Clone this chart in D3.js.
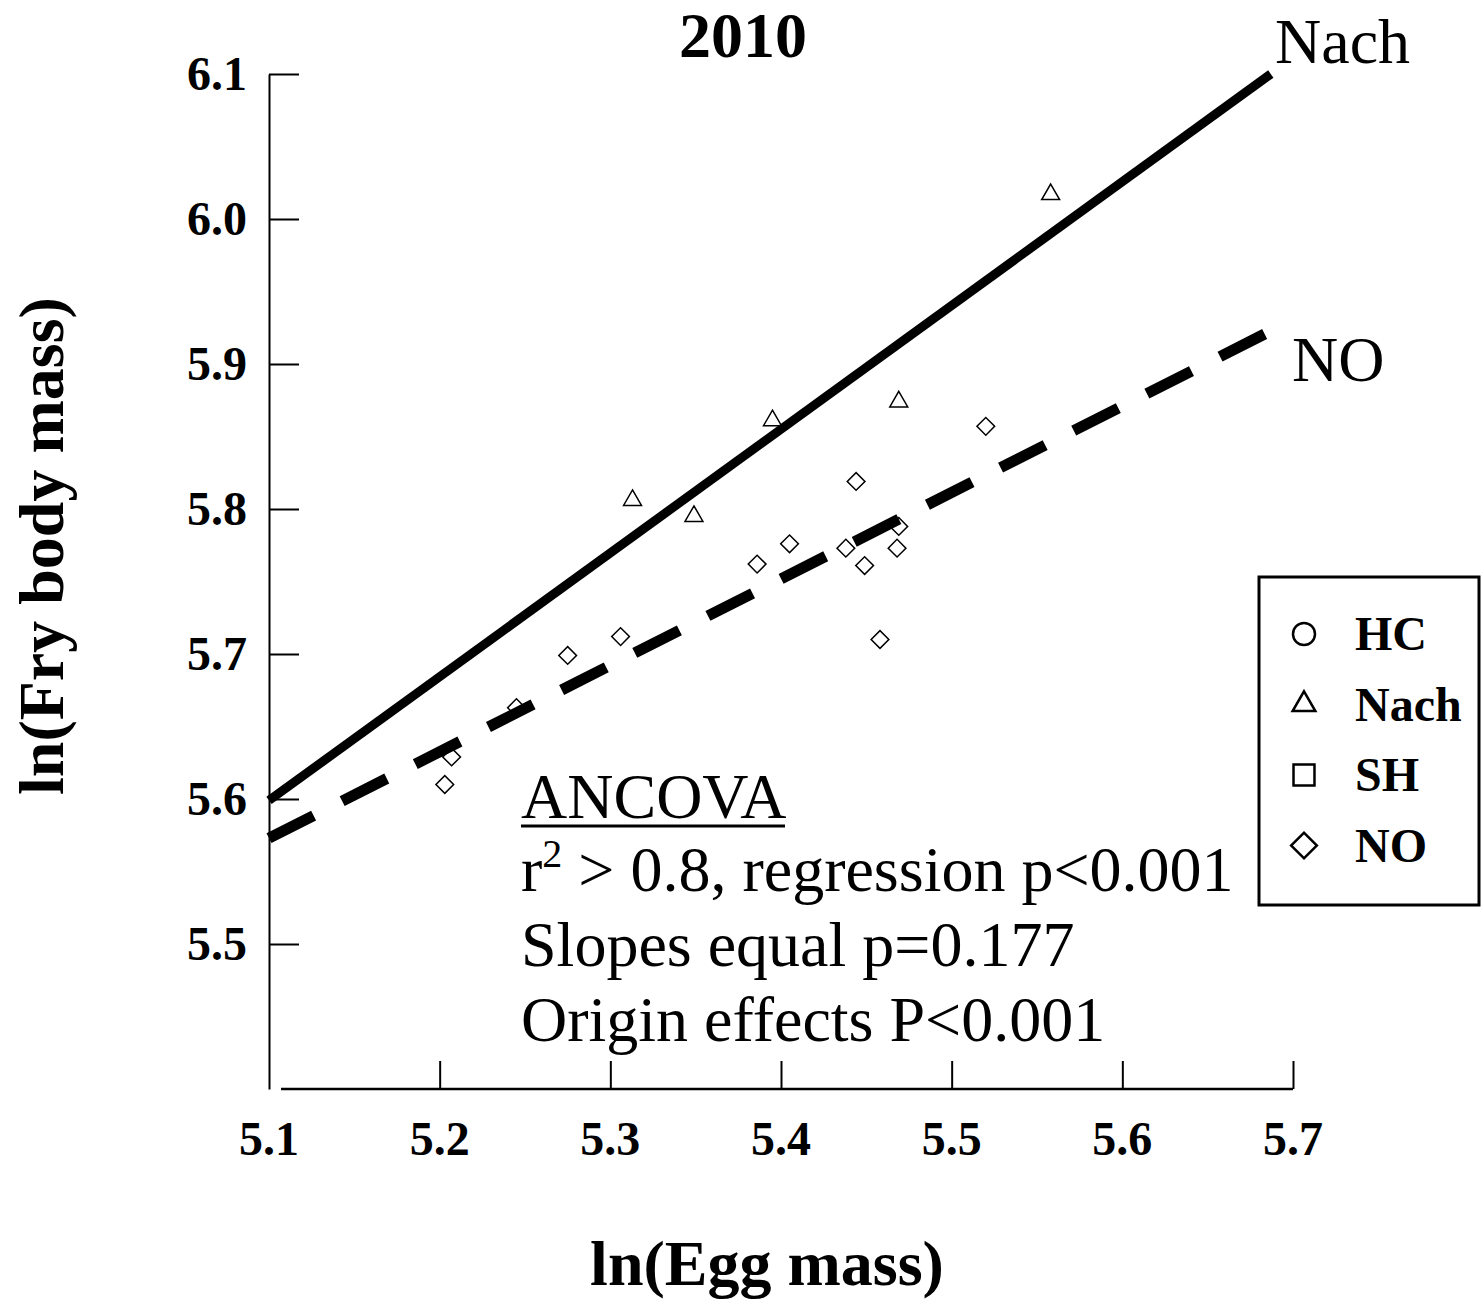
<!DOCTYPE html>
<html>
<head>
<meta charset="utf-8">
<script src="https://cdn.jsdelivr.net/npm/d3@7"></script>
<style>
  body { margin: 0; background: #fff; }
  svg { font-family: "Liberation Serif", "Times New Roman", serif; }
</style>
</head>
<body>
<svg id="chart"></svg>
<script>
// data
const nachX = [5.313, 5.349, 5.395, 5.469, 5.558];
const nachY = [5.806, 5.795, 5.861, 5.874, 6.017];

const noX = [5.203, 5.207, 5.245, 5.275, 5.306, 5.386, 5.405, 5.438, 5.444, 5.449, 5.458, 5.469, 5.468, 5.520];
const noY = [5.610, 5.629, 5.663, 5.699, 5.712, 5.762, 5.776, 5.773, 5.819, 5.761, 5.710, 5.788, 5.773, 5.857];

// fitted lines (start / end)
const nachLineX = [5.1, 5.687];
const nachLineY = [5.599, 6.1];
const noLineX = [5.1, 5.699];
const noLineY = [5.573, 5.930];

const xTicks = [5.1, 5.2, 5.3, 5.4, 5.5, 5.6, 5.7];
const yTicks = [5.5, 5.6, 5.7, 5.8, 5.9, 6.0, 6.1];

const legendLabels = ["HC", "Nach", "SH", "NO"];
const legendShapes = ["circle", "triangle", "square", "diamond"];

const statLines = ["r² > 0.8, regression p<0.001", "Slopes equal p=0.177", "Origin effects P<0.001"];

const width = 1481, height = 1301;

const svg = d3.select("#chart")
    .attr("width", width)
    .attr("height", height);

const x = d3.scaleLinear().domain([5.1, 5.7]).range([269, 1293]);
const y = d3.scaleLinear().domain([5.4, 6.1]).range([1089, 74]);

// y axis
const yAxisG = svg.append("g")
    .attr("transform", `translate(${x(5.1)},0)`)
    .call(d3.axisLeft(y).tickValues(yTicks).tickSizeInner(-30).tickSizeOuter(0).tickPadding(22)
        .tickFormat(d3.format(".1f")));
yAxisG.select(".domain").attr("stroke-width", 2);
yAxisG.selectAll(".tick line").attr("stroke-width", 2);
yAxisG.selectAll(".tick text")
    .attr("font-size", 48).attr("font-weight", "bold")
    .attr("font-family", "Liberation Serif").attr("fill", "#000");

// x axis
const xAxisG = svg.append("g")
    .attr("transform", `translate(0,${y(5.4)})`)
    .call(d3.axisBottom(x).tickValues(xTicks.slice(1)).tickSizeInner(-28).tickSizeOuter(0)
        .tickPadding(0).tickFormat(d3.format(".1f")));
xAxisG.select(".domain").remove();
xAxisG.append("line")
    .attr("x1", x(5.1) + 12).attr("x2", x(5.7))
    .attr("stroke", "#000").attr("stroke-width", 2.5);
xAxisG.selectAll(".tick line").attr("stroke-width", 2);
xAxisG.selectAll(".tick text").remove();
svg.append("g").selectAll("text")
    .data(xTicks)
    .join("text")
    .attr("x", d => x(d))
    .attr("y", 1155)
    .attr("text-anchor", "middle")
    .attr("font-size", 48).attr("font-weight", "bold")
    .text(d3.format(".1f"));

// regression lines
const lineGen = d3.line().x(d => x(d[0])).y(d => y(d[1]));
svg.append("path")
    .datum(d3.zip(nachLineX, nachLineY))
    .attr("d", lineGen)
    .attr("fill", "none").attr("stroke", "#000").attr("stroke-width", 9);
svg.append("path")
    .datum(d3.zip(noLineX, noLineY))
    .attr("d", lineGen)
    .attr("fill", "none").attr("stroke", "#000").attr("stroke-width", 11)
    .attr("stroke-dasharray", "50,32");

// points
const tri = d3.symbol().type(d3.symbolTriangle2).size(230);
const dia = d3.symbol().type(d3.symbolSquare2).size(200);

svg.append("g").selectAll("path")
    .data(d3.zip(nachX, nachY))
    .join("path")
    .attr("transform", d => `translate(${x(d[0])},${y(d[1])})`)
    .attr("d", tri)
    .attr("fill", "none").attr("stroke", "#000").attr("stroke-width", 1.5);

svg.append("g").selectAll("path")
    .data(d3.zip(noX, noY))
    .join("path")
    .attr("transform", d => `translate(${x(d[0])},${y(d[1])}) rotate(45)`)
    .attr("d", dia)
    .attr("fill", "none").attr("stroke", "#000").attr("stroke-width", 1.5);

// title and labels
svg.append("text")
    .attr("x", 743).attr("y", 57)
    .attr("text-anchor", "middle")
    .attr("font-size", 64).attr("font-weight", "bold")
    .text("2010");

svg.append("text")
    .attr("x", 1275).attr("y", 63)
    .attr("font-size", 64)
    .text("Nach");
svg.append("text")
    .attr("x", 1292).attr("y", 381)
    .attr("font-size", 64)
    .text("NO");

svg.append("text")
    .attr("transform", "translate(63,546) rotate(-90)")
    .attr("text-anchor", "middle")
    .attr("font-size", 64).attr("font-weight", "bold")
    .text("ln(Fry body mass)");

svg.append("text")
    .attr("x", 767).attr("y", 1285)
    .attr("text-anchor", "middle")
    .attr("font-size", 64).attr("font-weight", "bold")
    .text("ln(Egg mass)");

// ANCOVA annotation
const ann = svg.append("g").attr("font-size", 64);
ann.append("text")
    .attr("x", 521).attr("y", 818)
    .text("ANCOVA");
ann.append("line")
    .attr("x1", 521).attr("x2", 785)
    .attr("y1", 826).attr("y2", 826)
    .attr("stroke", "#000").attr("stroke-width", 3);

const l1 = ann.append("text").attr("x", 521).attr("y", 891);
l1.append("tspan").text("r");
l1.append("tspan").attr("dy", -24).attr("font-size", 40).text("2");
l1.append("tspan").attr("dy", 24).text(" > 0.8, regression p<0.001");

ann.selectAll(".stat")
    .data(statLines.slice(1))
    .join("text")
    .attr("class", "stat")
    .attr("x", 521)
    .attr("y", (d, i) => 966 + i * 75)
    .text(d => d);

// legend
const legend = svg.append("g").attr("transform", "translate(1259,577)");
legend.append("rect")
    .attr("width", 220).attr("height", 328)
    .attr("fill", "#fff").attr("stroke", "#000").attr("stroke-width", 3);

const shapeMap = {
    circle: d3.symbol().type(d3.symbolCircle).size(380),
    triangle: d3.symbol().type(d3.symbolTriangle2).size(370),
    square: d3.symbol().type(d3.symbolSquare2).size(560),
    diamond: d3.symbol().type(d3.symbolSquare2).size(420)
};

const rows = legend.selectAll(".row")
    .data(legendLabels)
    .join("g")
    .attr("class", "row")
    .attr("transform", (d, i) => `translate(0,${57 + i * 70.5})`);

rows.append("path")
    .attr("transform", (d, i) => `translate(45,0)${legendShapes[i] === "diamond" ? " rotate(45)" : ""}`)
    .attr("d", (d, i) => shapeMap[legendShapes[i]]())
    .attr("fill", "none").attr("stroke", "#000").attr("stroke-width", 2.5);

rows.append("text")
    .attr("x", 96).attr("y", 16)
    .attr("font-size", 48).attr("font-weight", "bold")
    .text(d => d);
</script>
</body>
</html>
